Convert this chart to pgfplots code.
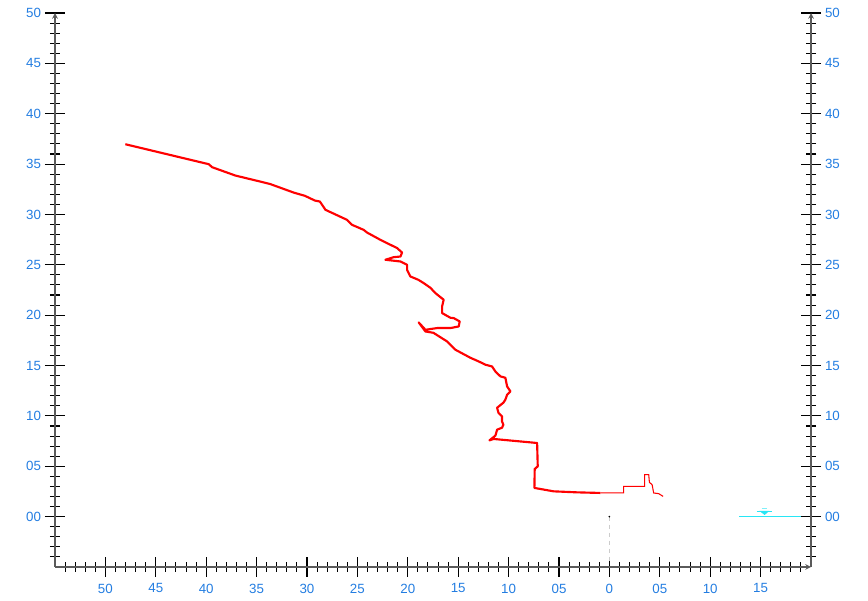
\documentclass[border=0pt]{standalone}
\usepackage{pgfplots}
\pgfplotsset{compat=1.18}
\usetikzlibrary{calc}
\usepackage{fontspec}
\setmainfont{Liberation Sans}
\definecolor{lblblue}{RGB}{35,125,225}
\definecolor{axgray}{RGB}{90,90,90}
\definecolor{aqua}{RGB}{40,230,245}
\begin{document}
\begin{tikzpicture}
\pgfplotsset{
  base/.style={
    scale only axis, width=567pt, height=415.5pt,
    xmin=-55, xmax=20, ymin=-5, ymax=50,
    axis line style={axgray, line width=0.9pt, -},
    tick align=center,
    major tick length=15pt, minor tick length=7.5pt,
    every tick/.style={black, line width=0.8pt},
    tick label style={font=\fontsize{10}{12}\selectfont, text=lblblue},
    /pgf/number format/assume math mode=true,
    clip=false,
  }
}
\begin{axis}[base,
  axis x line=bottom, axis y line=left,
  xtick={-50,-45,...,15},
  xticklabels={50,45,40,35,30,25,20,15,10,05,0,05,10,15},
  minor xtick={-54,...,19},
  ytick={0,5,...,50},
  yticklabels={00,05,10,15,20,25,30,35,40,45,50},
  minor ytick={-4,...,49},
  xticklabel style={yshift=-1.5pt},
  yticklabel style={xshift=0.5pt},
]
\coordinate (SW) at (rel axis cs:0,0);
\coordinate (NE) at (rel axis cs:1,1);
% gray dashed reference line
\addplot[gray!40, dashed, line width=0.6pt] coordinates {(0,0) (0,-4.5)};
\addplot[only marks, mark=*, mark size=0.4pt, black] coordinates {(0,0)};
% aqua line and symbol
\addplot[aqua, line width=0.8pt] coordinates {(12.9,0) (20,0)};
\addplot[aqua, line width=0.8pt] coordinates {(14.6,0.55) (16.1,0.55)};
\addplot[aqua, fill=aqua, line width=0.4pt] coordinates {(14.95,0.55) (15.8,0.55) (15.4,0.2)} -- cycle;
\addplot[aqua!60, line width=0.4pt] coordinates {(15.1,0.85) (15.6,0.85)};
% red profile (thick)
\addplot[red, line width=1.6pt, line join=round] coordinates {
(-48.02,36.97) (-39.75,34.99) (-39.41,34.69) (-37.10,33.86) (-34.62,33.26)
(-33.63,33.01) (-31.32,32.17) (-30.21,31.85) (-29.22,31.38) (-28.72,31.28)
(-28.17,30.46) (-26.02,29.46) (-25.53,28.97) (-24.38,28.47) (-24.04,28.20)
(-22.72,27.48) (-21.06,26.66) (-20.57,26.22) (-20.73,25.82) (-21.40,25.76)
(-22.22,25.50) (-20.73,25.33) (-20.07,25.00) (-20.07,24.50) (-19.74,23.84)
(-18.95,23.51) (-18.42,23.18) (-17.76,22.72) (-17.26,22.19) (-16.44,21.53)
(-16.60,20.86) (-16.60,20.21) (-15.77,19.74) (-15.45,19.71) (-14.85,19.38)
(-14.95,18.88) (-15.77,18.72) (-17.09,18.72) (-18.25,18.55) (-18.92,19.28)
(-18.25,18.38) (-17.46,18.25) (-16.10,17.39) (-15.28,16.57) (-13.79,15.77)
(-12.97,15.41) (-12.30,15.08) (-11.64,14.91) (-11.31,14.41) (-10.81,13.92)
(-10.32,13.79) (-10.15,12.93) (-9.82,12.43) (-10.15,12.10) (-10.32,11.61)
(-10.52,11.31) (-11.14,10.81) (-11.01,10.32) (-10.65,9.95) (-10.65,9.45)
(-10.52,9.13) (-10.65,8.83) (-11.14,8.63) (-11.31,8.04) (-11.90,7.57)
(-11.48,7.71) (-7.17,7.31) (-7.11,4.99) (-7.41,4.73) (-7.44,2.85)
(-5.53,2.51) (-3.20,2.41) (-0.89,2.35)
};
% red profile (thin)
\addplot[red, line width=0.8pt] coordinates {
(-0.89,2.35) (1.42,2.35) (1.42,3.01) (3.50,3.01) (3.50,4.17) (3.90,4.17)
(3.97,3.40) (4.24,3.17) (4.39,2.35) (4.89,2.28) (5.33,2.01)
};
\end{axis}
\begin{axis}[base,
  axis x line=none, axis y line=right,
  ytick={0,5,...,50},
  yticklabels={00,05,10,15,20,25,30,35,40,45,50},
  minor ytick={-4,...,49},
  yticklabel style={xshift=-0.5pt},
]
\end{axis}
\path (SW) ++(-41.25pt,-25.5pt) rectangle ($(NE)+(42.75pt,9.75pt)$);
\end{tikzpicture}
\end{document}
